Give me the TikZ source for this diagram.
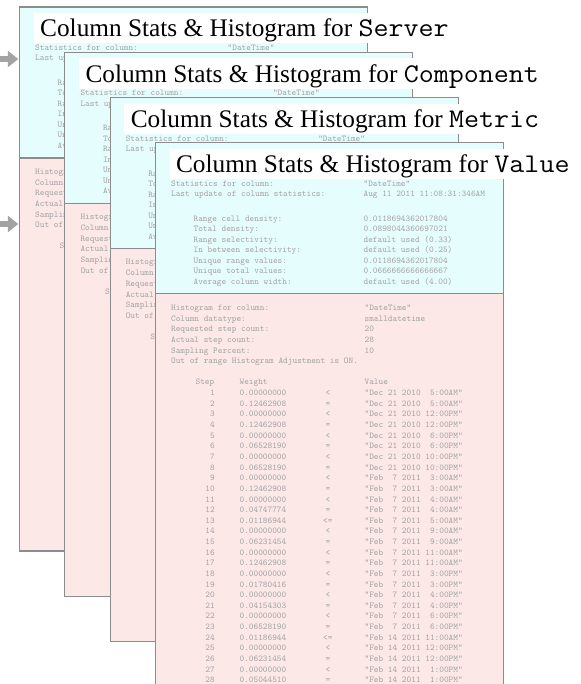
\documentclass[tikz,border=0pt]{standalone}
\usepackage{fontspec}
\setmainfont{Liberation Serif}
\usetikzlibrary{arrows.meta}

\definecolor{statfill}{HTML}{E6FDFD}
\definecolor{histfill}{HTML}{FDE8E8}
\definecolor{framegray}{HTML}{8C8C8C}
\definecolor{dimtext}{HTML}{A4A4A4}
\definecolor{pointer}{HTML}{A3A3A3}

\tikzset{
  panel/.style={draw=framegray, line width=1.1pt, anchor=north west,
    minimum width=348pt, inner sep=0pt, outer sep=0pt},
  statpanel/.style={panel, fill=statfill, minimum height=151pt},
  histpanel/.style={panel, fill=histfill, minimum height=393pt},
  mono/.style={inner sep=0pt, text=dimtext, font=\fontsize{8.9}{10}\ttfamily},
  titlebar/.style={fill=white, inner xsep=6.5pt, inner ysep=0pt,
    text height=24pt, text depth=6.3pt,
    font=\fontsize{25.3}{28}\selectfont, anchor=base west},
  feed/.style={draw=pointer, line width=6.5pt,
    -{Triangle[length=10.5pt,width=16pt]}, shorten >=1.2pt},
}

% column name in the heading, set in typewriter type
\newcommand\codeword[1]{{\fontsize{27}{28}\ttfamily\scalebox{1.08}[1]{#1}}}

% one statistics card: #1 name, #2 left, #3 top, #4 column
\newcommand\colcard[4]{%
  \begin{scope}[shift={(#2,#3)}]
    \node[statpanel] (#1s) at (0,0) {};
    \node[histpanel] (#1h) at (0,151) {};
    % density statistics
    \foreach \yy/\ind/\lab/\val [count=\k] in {
      43.5/15.5/{Statistics for column:}/{"DateTime"},
      54/15.5/{Last update of column statistics:}/{Aug 11 2011 11:08:31:346AM},
      78.5/38/{Range cell density:}/{0.0118694362017804},
      89/38/{Total density:}/{0.0898044360697021},
      99.5/38/{Range selectivity:}/{default used (0.33)},
      110/38/{In between selectivity:}/{default used (0.25)},
      120.5/38/{Unique range values:}/{0.0118694362017804},
      131/38/{Unique total values:}/{0.0666666666666667},
      141.5/38/{Average column width:}/{default used (4.00)}}
    {
      \node[mono, anchor=base west] (#1-sl\k) at (\ind,\yy) {\lab};
      \node[mono, anchor=base west] (#1-sv\k) at (208,\yy) {\val};
    }
    % histogram header
    \foreach \lab/\val [count=\k] in {
      {Histogram for column:}/{"DateTime"},
      {Column datatype:}/{smalldatetime},
      {Requested step count:}/{20},
      {Actual step count:}/{28},
      {Sampling Percent:}/{10},
      {Out of range Histogram Adjustment is ON.}/{}}
    {
      \pgfmathsetmacro\yy{167.4+10.7*(\k-1)}
      \node[mono, anchor=base west] (#1-hl\k) at (15.5,\yy) {\lab};
      \node[mono, anchor=base west] (#1-hv\k) at (209,\yy) {\val};
    }
    \node[mono, anchor=base west] (#1-colstep) at (40,242) {Step};
    \node[mono, anchor=base west] (#1-colweight) at (84,242) {Weight};
    \node[mono, anchor=base west] (#1-colvalue) at (209,242) {Value};
    % histogram steps
    \foreach \n/\w/\c/\v in {
      1/0.00000000/</{"Dec~21~2010~~5:00AM"},
      2/0.12462908/=/{"Dec~21~2010~~5:00AM"},
      3/0.00000000/</{"Dec~21~2010~12:00PM"},
      4/0.12462908/=/{"Dec~21~2010~12:00PM"},
      5/0.00000000/</{"Dec~21~2010~~6:00PM"},
      6/0.06528190/=/{"Dec~21~2010~~6:00PM"},
      7/0.00000000/</{"Dec~21~2010~10:00PM"},
      8/0.06528190/=/{"Dec~21~2010~10:00PM"},
      9/0.00000000/</{"Feb~~7~2011~~3:00AM"},
      10/0.12462908/=/{"Feb~~7~2011~~3:00AM"},
      11/0.00000000/</{"Feb~~7~2011~~4:00AM"},
      12/0.04747774/=/{"Feb~~7~2011~~4:00AM"},
      13/0.01186944/<=/{"Feb~~7~2011~~5:00AM"},
      14/0.00000000/</{"Feb~~7~2011~~9:00AM"},
      15/0.06231454/=/{"Feb~~7~2011~~9:00AM"},
      16/0.00000000/</{"Feb~~7~2011~11:00AM"},
      17/0.12462908/=/{"Feb~~7~2011~11:00AM"},
      18/0.00000000/</{"Feb~~7~2011~~3:00PM"},
      19/0.01780416/=/{"Feb~~7~2011~~3:00PM"},
      20/0.00000000/</{"Feb~~7~2011~~4:00PM"},
      21/0.04154303/=/{"Feb~~7~2011~~4:00PM"},
      22/0.00000000/</{"Feb~~7~2011~~6:00PM"},
      23/0.06528190/=/{"Feb~~7~2011~~6:00PM"},
      24/0.01186944/<=/{"Feb~14~2011~11:00AM"},
      25/0.00000000/</{"Feb~14~2011~12:00PM"},
      26/0.06231454/=/{"Feb~14~2011~12:00PM"},
      27/0.00000000/</{"Feb~14~2011~~1:00PM"},
      28/0.05044510/=/{"Feb~14~2011~~1:00PM"}}
    {
      \pgfmathsetmacro\yy{252.8+10.63*(\n-1)}
      \node[mono, anchor=base east] (#1-n\n) at (59.5,\yy) {\n};
      \node[mono, anchor=base west] (#1-w\n) at (84,\yy) {\w};
      \node[mono, anchor=base] (#1-c\n) at (172.5,\yy) {\c};
      \node[mono, anchor=base west] (#1-v\n) at (209,\yy) {\v};
    }
    % heading
    \node[titlebar] (#1t) at (14,30) {Column Stats \& Histogram for \codeword{#4}};
  \end{scope}}

\begin{document}
\begin{tikzpicture}[x=1pt, y=-1pt]
  \useasboundingbox (0,0) rectangle (580,684);
  \clip (0,0) rectangle (580,684);

  \colcard{srv}{19.5}{7}{Server}
  \colcard{cmp}{64.8}{52.3}{Component}
  \colcard{met}{110.1}{97.6}{Metric}
  \colcard{val}{155.4}{142.9}{Value}

  % incoming pointers to the first card
  \coordinate (feedA) at (-12,59);
  \coordinate (feedB) at (-12,224);
  \draw[feed] (feedA) -- (feedA -| srvs.west);
  \draw[feed] (feedB) -- (feedB -| srvh.west);
\end{tikzpicture}
\end{document}
